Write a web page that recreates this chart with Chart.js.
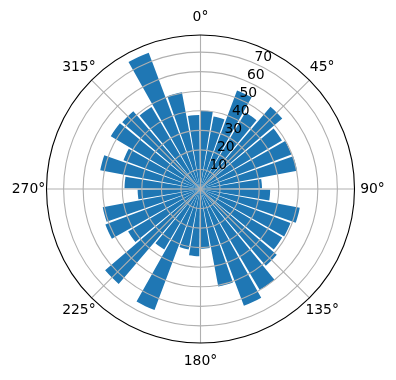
<!DOCTYPE html>
<html><head><meta charset="utf-8">
<script src="https://cdn.jsdelivr.net/npm/chart.js@4/dist/chart.umd.min.js"></script>
<style>html,body{margin:0;padding:0;background:#fff}canvas{display:block}</style>
</head><body>
<canvas id="c" width="396" height="380"></canvas>
<script>
// bar centre directions (degrees, clockwise from north)
const directions = [5,15,25,35,45,55,65,75,85,95,105,115,125,135,145,155,165,175,
                    185,195,205,215,225,235,245,255,265,275,285,295,305,315,325,335,345,355];
// bar lengths
const values = [40,37.7,53.8,45.5,55.4,48.7,50,50.5,31.7,
                35.9,51.9,49.4,48.8,51.7,60,63.8,50.7,30.6,
                34.4,31.5,66.1,35.9,63.9,42.7,51.7,50.6,31.9,
                38.6,51.9,41.8,53,52.4,48.7,74.5,50.3,37.9];
const radialTicks = [10,20,30,40,50,60,70];
const angleTicks = [0,45,90,135,180,225,270,315];
const angleTickLabels = ['0°','45°','90°','135°','180°','225°','270°','315°'];
const rMax = 78.75;
const barWidthDeg = 8.8;
const stepDeg = 10;

// build interleaved bar/gap elements
const data = [], angles = [], colors = [], labels = [];
directions.forEach((d, i) => {
  data.push(values[i]); angles.push(barWidthDeg); colors.push('#1f77b4'); labels.push(d + '°');
  data.push(0); angles.push(stepDeg - barWidthDeg); colors.push('rgba(0,0,0,0)'); labels.push('');
});

const FONT = '13.9px "DejaVu Sans"';
const overlay = {
  id: 'overlay',
  afterDatasetsDraw(chart) {
    const s = chart.scales.r, ctx = chart.ctx;
    const cx = s.xCenter + 0.5, cy = s.yCenter;
    const R = s.getDistanceFromCenterForValue(rMax);
    ctx.save();
    ctx.strokeStyle = '#b0b0b0'; ctx.lineWidth = 1.1;
    radialTicks.forEach(v => {
      const r = s.getDistanceFromCenterForValue(v);
      ctx.beginPath(); ctx.arc(cx, cy, r, 0, 2 * Math.PI); ctx.stroke();
    });
    angleTicks.forEach(a => {
      const t = (a - 90) * Math.PI / 180;
      ctx.beginPath(); ctx.moveTo(cx, cy);
      ctx.lineTo(cx + R * Math.cos(t), cy + R * Math.sin(t)); ctx.stroke();
    });
    ctx.strokeStyle = '#000';
    ctx.beginPath(); ctx.arc(cx, cy, R, 0, 2 * Math.PI); ctx.stroke();
    ctx.fillStyle = '#000'; ctx.font = FONT;
    ctx.textAlign = 'left'; ctx.textBaseline = 'alphabetic';
    const la = (22.5 - 90) * Math.PI / 180;
    radialTicks.forEach(v => {
      const r = s.getDistanceFromCenterForValue(v);
      ctx.fillText(String(v), cx + r * Math.cos(la) + 1.5, cy + r * Math.sin(la) - 1.5);
    });
    ctx.textAlign = 'center'; ctx.textBaseline = 'middle';
    angleTicks.forEach((a, i) => {
      const t = (a - 90) * Math.PI / 180;
      const rr = R + 18;
      ctx.fillText(angleTickLabels[i], cx + rr * Math.cos(t), cy + rr * Math.sin(t));
    });
    ctx.restore();
  }
};

new Chart(document.getElementById('c'), {
  type: 'polarArea',
  data: { labels, datasets: [{ data, backgroundColor: colors, borderWidth: 0,
          angle: (c) => angles[c.dataIndex] }] },
  options: {
    responsive: false, animation: false,
    layout: { padding: { left: 46, right: 42, top: 35, bottom: 37 } },
    plugins: { legend: { display: false }, tooltip: { enabled: false } },
    scales: { r: {
      min: 0, max: rMax,
      startAngle: directions[0] - barWidthDeg / 2,
      ticks: { display: false, stepSize: 10 },
      grid: { display: false }, angleLines: { display: false },
      pointLabels: { display: false }
    } }
  },
  plugins: [overlay]
});
</script>
</body></html>
